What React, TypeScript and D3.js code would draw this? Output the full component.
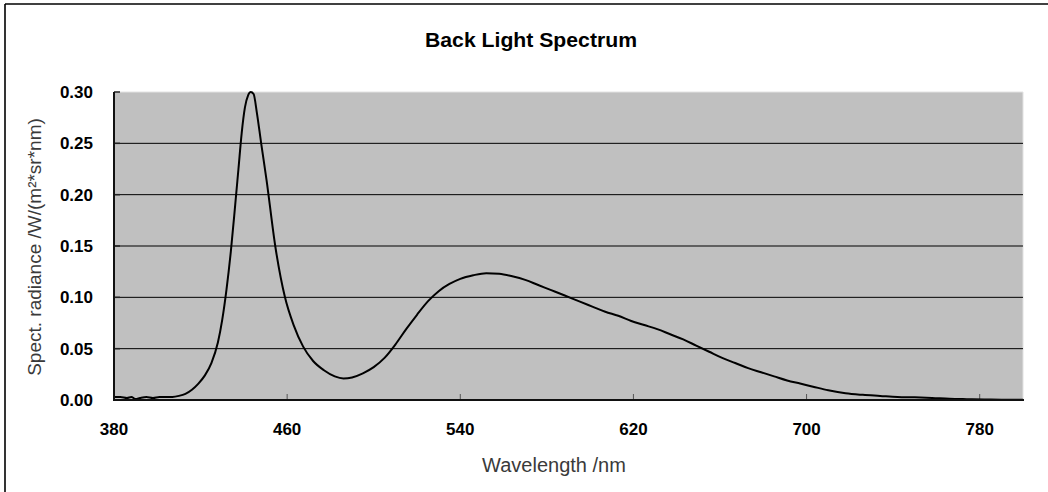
import React from "react";
import * as d3 from "d3";

const wavelengths = [
  380, 383, 386, 388, 390, 392, 395, 398, 401, 404, 407, 410, 413, 416, 419, 422, 425, 428, 430, 432, 434,
  436, 437.5, 439, 440.5, 442, 443.2, 444.5, 446, 448, 450.5, 454.5, 459, 463, 467.4, 472, 477, 482, 486,
  490, 495, 500, 505, 510, 515, 520, 525, 530, 535, 540, 546, 552, 558, 564, 570, 576, 582, 588,
  595, 601, 607, 613, 619, 625, 631, 637, 643, 649, 655, 661, 667, 673, 679, 685, 691, 697, 703, 710,
  718, 726, 734, 742, 750, 758, 766, 774, 782, 790, 800,
];
const radiance = [
  0.003, 0.003, 0.002, 0.003, 0.001, 0.002, 0.003, 0.002, 0.003, 0.003, 0.003, 0.004, 0.006, 0.01, 0.016, 0.024, 0.036, 0.056, 0.078, 0.108, 0.145,
  0.19, 0.225, 0.26, 0.285, 0.297, 0.3, 0.298, 0.28, 0.25, 0.214, 0.15, 0.1, 0.073, 0.052, 0.038, 0.029, 0.023, 0.021,
  0.022, 0.026, 0.032, 0.041, 0.054, 0.069, 0.083, 0.096, 0.106, 0.113, 0.118, 0.1215, 0.1235, 0.123, 0.1205, 0.117, 0.112, 0.107, 0.102,
  0.096, 0.091, 0.086, 0.082, 0.077, 0.073, 0.069, 0.064, 0.059, 0.053, 0.047, 0.041, 0.036, 0.031, 0.027, 0.023, 0.019, 0.016, 0.013, 0.0095,
  0.0065, 0.005, 0.004, 0.003, 0.0026, 0.002, 0.0012, 0.0008, 0.0005, 0.0003, 0.0002,
];
const xTicks = [380, 460, 540, 620, 700, 780];
const yTicks = [0, 0.05, 0.1, 0.15, 0.2, 0.25, 0.3];
const title = "Back Light Spectrum";
const xLabel = "Wavelength /nm";
const yLabel = "Spect. radiance /W/(m²*sr*nm)";

export default function App() {
  const W = 1048, H = 492;
  const left = 114, right = 1023, top = 92, bottom = 400;
  const x = d3.scaleLinear().domain([380, 800]).range([left, right]);
  const y = d3.scaleLinear().domain([0, 0.3]).range([bottom, top]);
  const pts: [number, number][] = wavelengths.map((w, i) => [w, radiance[i]]);
  const line = d3
    .line<[number, number]>()
    .x((d) => x(d[0]))
    .y((d) => y(d[1]))
    .curve(d3.curveMonotoneX);
  const font = "'Liberation Sans', Arial, sans-serif";
  return (
    <svg
      width={W}
      height={H}
      style={{ position: "absolute", left: 0, top: 0, background: "#fff" }}
      fontFamily={font}
    >
      <rect x={0} y={0} width={W} height={H} fill="#fff" />
      <line x1={5} y1={4} x2={W} y2={4} stroke="#000" strokeWidth={1.6} />
      <line x1={5} y1={4} x2={5} y2={H} stroke="#000" strokeWidth={1.6} />
      <text x={531} y={47} textAnchor="middle" fontSize={20} fontWeight="bold" fill="#000" textLength={212} lengthAdjust="spacingAndGlyphs">
        {title}
      </text>
      <rect x={left} y={top} width={right - left} height={bottom - top} fill="#c0c0c0" />
      <line x1={left} y1={top} x2={right} y2={top} stroke="#e2e2e2" strokeWidth={1} />
      <line x1={right} y1={top} x2={right} y2={bottom} stroke="#e2e2e2" strokeWidth={1} />
      {yTicks
        .filter((t) => t > 0 && t < 0.3)
        .map((t) => (
          <line key={"g" + t} x1={left} x2={right} y1={y(t)} y2={y(t)} stroke="#000" strokeWidth={1} />
        ))}
      {yTicks.map((t) => (
        <line key={"yt" + t} x1={left} x2={left + 6} y1={y(t)} y2={y(t)} stroke="#222" strokeWidth={1.5} />
      ))}
      {xTicks.slice(1).map((t) => (
        <line key={"xt" + t} x1={x(t)} x2={x(t)} y1={bottom} y2={bottom - 6} stroke="#555" strokeWidth={1} />
      ))}
      <path d={line(pts) || ""} fill="none" stroke="#000" strokeWidth={2} strokeLinejoin="round" />
      <line x1={left} y1={top} x2={left} y2={bottom + 1} stroke="#111" strokeWidth={2} />
      <line x1={left - 1} y1={bottom} x2={right + 1} y2={bottom} stroke="#111" strokeWidth={2} />
      {yTicks.map((t) => (
        <text key={"yl" + t} x={93} y={y(t)} dy="0.36em" textAnchor="end" fontSize={17} fontWeight="bold" fill="#000">
          {t.toFixed(2)}
        </text>
      ))}
      {xTicks.map((t) => (
        <text key={"xl" + t} x={x(t)} y={435} textAnchor="middle" fontSize={17} fontWeight="bold" fill="#000">
          {t}
        </text>
      ))}
      <text x={554} y={472} textAnchor="middle" fontSize={20} fill="#3a3a3a">
        {xLabel}
      </text>
      <text
        transform={`translate(41,247) rotate(-90)`}
        textAnchor="middle"
        fontSize={19}
        fill="#3a3a3a"
      >
        {yLabel}
      </text>
    </svg>
  );
}
